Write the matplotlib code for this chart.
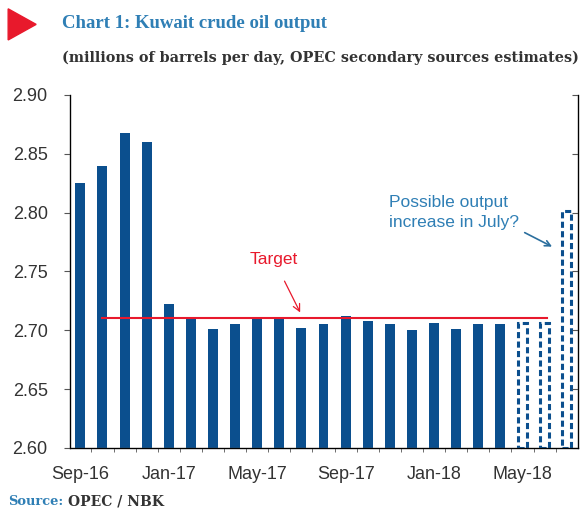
import matplotlib.pyplot as plt
from matplotlib.patches import Polygon

months = ["Sep-16", "Oct-16", "Nov-16", "Dec-16", "Jan-17", "Feb-17", "Mar-17", "Apr-17",
          "May-17", "Jun-17", "Jul-17", "Aug-17", "Sep-17", "Oct-17", "Nov-17", "Dec-17",
          "Jan-18", "Feb-18", "Mar-18", "Apr-18", "May-18", "Jun-18", "Jul-18"]
output = [2.825, 2.840, 2.868, 2.860, 2.722, 2.710, 2.701, 2.705,
          2.710, 2.710, 2.702, 2.705, 2.712, 2.708, 2.705, 2.700,
          2.706, 2.701, 2.705, 2.705, 2.706, 2.706, 2.801]
estimated = [False] * 20 + [True] * 3
target = 2.71
target_from = "Oct-16"
target_to = "Jun-18"
yticks = [2.60, 2.65, 2.70, 2.75, 2.80, 2.85, 2.90]

blue = '#0b4f8e'
red = '#e8192c'
teal = '#2f7fb5'

fig = plt.figure(figsize=(5.83, 5.19), dpi=100, facecolor='white')
ax = fig.add_axes([0.120, 0.137, 0.871, 0.680])

x = list(range(len(months)))
for i in x:
    if estimated[i]:
        ax.bar(i, output[i] - 2.60, bottom=2.60, width=0.42, color='white',
               edgecolor=blue, linewidth=2.2, linestyle=(0, (2, 1.1)), zorder=2)
    else:
        ax.bar(i, output[i] - 2.60, bottom=2.60, width=0.45, color=blue, zorder=2)

i0 = months.index(target_from)
i1 = months.index(target_to)
ax.plot([i0, i1 + 0.1], [target, target], color=red, linewidth=1.5, zorder=3)

ax.set_xlim(-0.47, 22.5)
ax.set_ylim(2.60, 2.90)
ax.set_yticks(yticks)
ax.set_yticklabels(["%.2f" % v for v in yticks], fontsize=13, color='#333333',
                   family='Liberation Sans')
ax.set_xticks(x[::4])
ax.set_xticklabels(months[::4], fontsize=13, color='#333333', family='Liberation Sans')
ax.set_xticks([i + 0.5 for i in x[:-1]], minor=True)
ax.tick_params(axis='x', which='major', length=0, pad=13)
ax.tick_params(axis='x', which='minor', length=3, color='#555555', direction='out')
ax.tick_params(axis='y', length=4, color='#555555', direction='out', pad=12)

ax.spines['top'].set_visible(False)
for s in ['left', 'bottom', 'right']:
    ax.spines[s].set_color('#555555')
    ax.spines[s].set_linewidth(1)

ax2 = ax.twinx()
ax2.set_ylim(2.60, 2.90)
ax2.set_yticks(yticks)
ax2.set_yticklabels([])
ax2.tick_params(axis='y', length=4, color='#555555', direction='in')
ax2.spines['top'].set_visible(False)

ax.annotate("Target", xy=(10.0, 2.713), xytext=(8.75, 2.760),
            fontsize=12.5, color=red, family='Liberation Sans', ha='center', va='center',
            arrowprops=dict(arrowstyle='->', color=red, lw=0.9, shrinkA=9))
ax.annotate("", xy=(21.45, 2.770), xytext=(20.1, 2.783),
            arrowprops=dict(arrowstyle='->', color='#2b6f9e', lw=1.2, shrinkA=0))
ax.text(13.95, 2.800, "Possible output\nincrease in July?", fontsize=12.5, color=teal,
        family='Liberation Sans', ha='left', va='center', linespacing=1.4)

tri = Polygon([[0.014, 0.983], [0.014, 0.923], [0.062, 0.953]], closed=True,
              transform=fig.transFigure, color='#e8192c')
fig.patches.append(tri)
fig.text(0.106, 0.955, "Chart 1: Kuwait crude oil output", fontsize=13.5, color=teal,
         family='Liberation Serif', weight='bold', va='center', ha='left')
fig.text(0.106, 0.888, "(millions of barrels per day, OPEC secondary sources estimates)",
         fontsize=10.4, color='#333333', family='DejaVu Serif', weight='bold',
         va='center', ha='left')
fig.text(0.014, 0.034, "Source:", fontsize=9.4, color=teal, family='DejaVu Serif',
         weight='bold', va='center', ha='left')
fig.text(0.116, 0.034, "OPEC / NBK", fontsize=10, color='#333333', family='DejaVu Serif',
         weight='bold', va='center', ha='left')

fig.savefig('out.png', dpi=100)
